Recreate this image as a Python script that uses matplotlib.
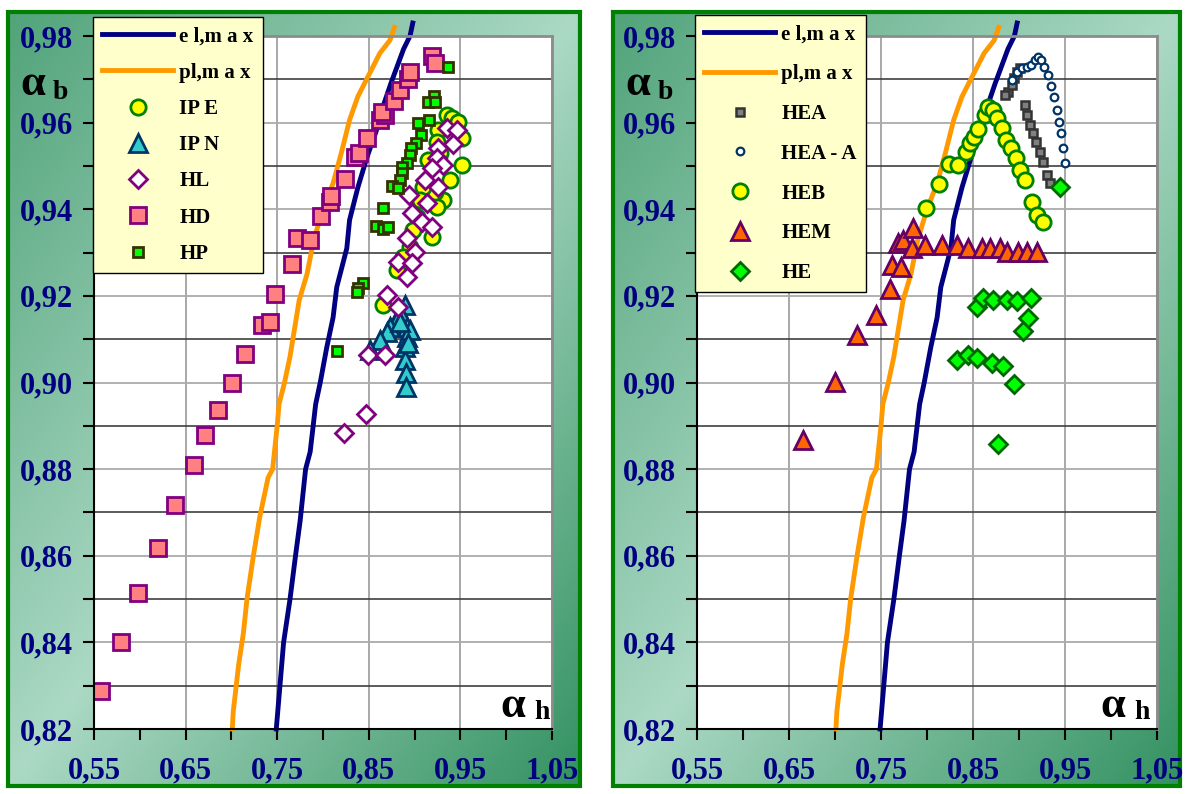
import numpy as np
import matplotlib.pyplot as plt
from matplotlib.patches import Rectangle

plt.rcParams['font.family'] = ['Liberation Serif', 'DejaVu Serif']
plt.rcParams['font.weight'] = 'bold'

# limit curves (same on both panels)
el_x = [0.749, 0.751, 0.757, 0.764, 0.770, 0.775, 0.781, 0.786, 0.792, 0.797, 0.804, 0.811,
        0.815, 0.826, 0.829, 0.838, 0.848, 0.858, 0.866, 0.874, 0.881, 0.888, 0.895, 0.898]
el_y = [0.820, 0.825, 0.840, 0.850, 0.860, 0.868, 0.880, 0.884, 0.895, 0.900, 0.908, 0.915,
        0.922, 0.931, 0.9375, 0.945, 0.952, 0.958, 0.964, 0.969, 0.973, 0.977, 0.980, 0.983]
pl_x = [0.701, 0.702, 0.708, 0.713, 0.717, 0.724, 0.731, 0.740, 0.745, 0.750, 0.752, 0.758,
        0.764, 0.774, 0.7825, 0.790, 0.800, 0.811, 0.820, 0.829, 0.838, 0.850, 0.862, 0.873, 0.878]
pl_y = [0.820, 0.824, 0.835, 0.842, 0.850, 0.860, 0.869, 0.878, 0.880, 0.890, 0.895, 0.900,
        0.906, 0.919, 0.925, 0.933, 0.940, 0.946, 0.953, 0.9606, 0.966, 0.971, 0.976, 0.979, 0.982]

# left panel
ipe_x = [0.9354, 0.9408, 0.9474, 0.9517, 0.9517, 0.9386, 0.931, 0.9245, 0.919, 0.9256, 0.9245, 0.9277,
         0.9223, 0.9092, 0.9026, 0.8983, 0.895, 0.884, 0.8873, 0.8808, 0.8655, 0.9146, 0.9059]
ipe_y = [0.9618, 0.9611, 0.9601, 0.9564, 0.9502, 0.9468, 0.9421, 0.9405, 0.9336, 0.9583, 0.9555, 0.953,
         0.944, 0.9451, 0.9382, 0.9352, 0.9313, 0.926, 0.929, 0.926, 0.9179, 0.9514, 0.9421]
ipn_x = [0.8895, 0.884, 0.8808, 0.8731, 0.8699, 0.8622, 0.8513, 0.8917, 0.8917, 0.8895, 0.8895,
         0.8906, 0.8906, 0.895, 0.8928, 0.884]
ipn_y = [0.9179, 0.916, 0.9144, 0.9128, 0.9117, 0.9098, 0.9075, 0.9128, 0.9105, 0.9082, 0.9052,
         0.9022, 0.899, 0.9121, 0.9091, 0.914]
hl_x = [0.9354, 0.9463, 0.9419, 0.9256, 0.9245, 0.931, 0.919, 0.9114, 0.9256, 0.8937, 0.9135, 0.8972,
        0.9081, 0.919, 0.8917, 0.9004, 0.8819, 0.8972, 0.8917, 0.8699, 0.8819, 0.8491, 0.8677,
        0.8469, 0.8229]
hl_y = [0.9588, 0.9583, 0.9551, 0.9541, 0.9518, 0.9502, 0.9495, 0.9468, 0.9451, 0.9433, 0.9414, 0.9391,
        0.9371, 0.9359, 0.9334, 0.9301, 0.9278, 0.9276, 0.9244, 0.9202, 0.9174, 0.9063, 0.9063,
        0.8927, 0.8883]
hd_x = [0.5576, 0.5795, 0.598, 0.620, 0.6384, 0.659, 0.671, 0.6854, 0.7007, 0.7148, 0.7334, 0.7421,
        0.7476, 0.766, 0.7716, 0.786, 0.798, 0.808, 0.809, 0.824, 0.835, 0.839, 0.848, 0.862,
        0.868, 0.864, 0.877, 0.884, 0.893, 0.895, 0.919, 0.922]
hd_y = [0.8288, 0.840, 0.8514, 0.8618, 0.8717, 0.881, 0.8879, 0.8937, 0.8999, 0.9066, 0.9133, 0.914,
        0.9204, 0.9274, 0.9334, 0.933, 0.9384, 0.9416, 0.943, 0.947, 0.952, 0.953, 0.9565, 0.9606,
        0.9618, 0.9625, 0.965, 0.9675, 0.970, 0.9717, 0.9754, 0.9738]
hp_x = [0.9365, 0.9212, 0.9146, 0.9223, 0.9157, 0.9037, 0.907, 0.9015, 0.8961, 0.895, 0.8917, 0.8862,
        0.8862, 0.884, 0.8753, 0.8819, 0.8655, 0.8579, 0.8655, 0.871, 0.8437, 0.8382, 0.8371, 0.8153]
hp_y = [0.9728, 0.9661, 0.9648, 0.9648, 0.9606, 0.9599, 0.9571, 0.9553, 0.9541, 0.9525, 0.9507, 0.9498,
        0.9484, 0.9468, 0.9454, 0.9449, 0.9403, 0.9361, 0.9354, 0.9359, 0.923, 0.9218, 0.9209, 0.9073]

# right panel
hea_x = [0.888, 0.8924, 0.8946, 0.8978, 0.9011, 0.8848, 0.9065, 0.9087, 0.912, 0.9152, 0.9185,
         0.9228, 0.9261, 0.9304, 0.9337]
hea_y = [0.9671, 0.9687, 0.9703, 0.9717, 0.9726, 0.9664, 0.9641, 0.9618, 0.9595, 0.9576, 0.9555,
         0.9532, 0.9509, 0.9479, 0.9461]
heaa_x = [0.8924, 0.8978, 0.9033, 0.9087, 0.913, 0.9174, 0.9207, 0.9239, 0.9272, 0.9315, 0.9348,
          0.938, 0.9413, 0.9435, 0.9457, 0.9478, 0.950]
heaa_y = [0.9698, 0.9717, 0.9726, 0.9728, 0.9733, 0.9745, 0.9752, 0.9745, 0.9728, 0.971, 0.9685,
          0.9659, 0.9629, 0.9601, 0.9576, 0.9541, 0.9507]
heb_x = [0.7989, 0.813, 0.8239, 0.8337, 0.8424, 0.8467, 0.8511, 0.8554, 0.863, 0.8663, 0.8717, 0.8761,
         0.8815, 0.8859, 0.8913, 0.8967, 0.9011, 0.9065, 0.9141, 0.9196, 0.9261]
heb_y = [0.9403, 0.9458, 0.9504, 0.9502, 0.9532, 0.9553, 0.9567, 0.9585, 0.9618, 0.9636, 0.9629, 0.9611,
         0.9588, 0.956, 0.9541, 0.9518, 0.9491, 0.9468, 0.9417, 0.9387, 0.9371]
hem_x = [0.6652, 0.700, 0.7239, 0.7446, 0.7598, 0.762, 0.7717, 0.7685, 0.7739, 0.7848, 0.7837, 0.7978,
         0.8163, 0.8326, 0.8446, 0.8598, 0.8685, 0.8793, 0.887, 0.8989, 0.9087, 0.9196]
hem_y = [0.8867, 0.9001, 0.911, 0.9156, 0.9216, 0.9271, 0.9267, 0.9322, 0.9329, 0.9357, 0.9311, 0.9317,
         0.9317, 0.9317, 0.9311, 0.9311, 0.9311, 0.9311, 0.9301, 0.9301, 0.9301, 0.9301]
he_x = [0.8543, 0.8609, 0.8717, 0.887, 0.8978, 0.913, 0.9098, 0.9043, 0.8326, 0.8446, 0.8543, 0.8707,
        0.8826, 0.8946, 0.8772, 0.9446]
he_y = [0.9174, 0.9195, 0.919, 0.919, 0.9188, 0.9195, 0.9149, 0.9119, 0.9052, 0.9064, 0.9057, 0.9045,
        0.9038, 0.8997, 0.8858, 0.9451]

x_ticks = [0.55, 0.65, 0.75, 0.85, 0.95, 1.05]
y_ticks = [0.82, 0.84, 0.86, 0.88, 0.90, 0.92, 0.94, 0.96, 0.98]

W, H = 1187, 794
fig = plt.figure(figsize=(W / 100, H / 100), dpi=100)


def px(x0, y0, x1, y1):
    # pixel box -> figure rect
    return [x0 / W, 1 - y1 / H, (x1 - x0) / W, (y1 - y0) / H]


def background(rect):
    bg = fig.add_axes(rect, zorder=0)
    U, V = np.meshgrid(np.linspace(0, 1, 300), np.linspace(0, 1, 300))
    s = U + V - 1
    t = np.where(s < 0, -s * 0.75, s)[..., None]
    light = np.array([0.67, 0.85, 0.77])
    dark = np.array([0.20, 0.57, 0.38])
    bg.imshow(light * (1 - t) + dark * t, aspect='auto', extent=(0, 1, 0, 1), origin='upper')
    bg.set_axis_off()
    bg.add_patch(Rectangle((0, 0), 1, 1, transform=bg.transAxes, fill=False,
                           ec='#008000', lw=3, clip_on=False))


def panel(rect):
    ax = fig.add_axes(rect, zorder=1)
    ax.set_facecolor('white')
    ax.set_xlim(0.55, 1.05)
    ax.set_ylim(0.82, 0.98)
    ax.set_xticks(x_ticks)
    ax.set_xticklabels([f'{v:.2f}'.replace('.', ',') for v in x_ticks])
    ax.set_xticks(np.arange(0.60, 1.01, 0.1), minor=True)
    ax.set_yticks(y_ticks)
    ax.set_yticklabels([f'{v:.2f}'.replace('.', ',') for v in y_ticks])
    ax.set_yticks(np.arange(0.83, 0.975, 0.02), minor=True)
    ax.set_axisbelow(True)
    ax.grid(axis='y', which='major', color='#aaaaaa', lw=1.3)
    ax.grid(axis='y', which='minor', color='#404040', lw=1.2)
    ax.grid(axis='x', which='major', color='#9a9a9a', lw=1.2)
    ax.tick_params(which='both', direction='out', length=8, width=1.5, color='black')
    ax.tick_params(axis='both', labelsize=22, labelcolor='#000080')
    ax.tick_params(axis='x', pad=12)
    ax.tick_params(axis='y', pad=7)
    for sp in ['left', 'bottom']:
        ax.spines[sp].set_color('black')
        ax.spines[sp].set_linewidth(1.5)
    for sp in ['top', 'right']:
        ax.spines[sp].set_color('#8c8c8c')
        ax.spines[sp].set_linewidth(2)
    ax.plot(el_x, el_y, color='#000080', lw=3.5, label='e l,m a x', clip_on=False)
    ax.plot(pl_x, pl_y, color='#ff9900', lw=3.5, label='pl,m a x', clip_on=False)
    return ax


def labels(x0, y0):
    fig.text(x0 / W, 1 - y0 / H, 'α', fontsize=32, color='black')
    fig.text((x0 + 33) / W, 1 - (y0 + 4) / H, 'b', fontsize=20, color='black')


def legend(ax, x0, y0, spacing):
    lg = ax.legend(loc='upper left', bbox_to_anchor=(x0 / W, 1 - y0 / H),
                   bbox_transform=fig.transFigure, borderaxespad=0,
                   prop={'family': 'Liberation Serif', 'weight': 'bold', 'size': 15},
                   handlelength=3.4, handletextpad=0.3, labelspacing=spacing,
                   borderpad=0.45, fancybox=False, framealpha=1,
                   facecolor='#ffffcc', edgecolor='black')
    lg.get_frame().set_linewidth(1)
    lg.set_zorder(10)


# ---- left panel
background(px(8, 12, 580, 786))
ax1 = panel(px(94, 36, 552, 729))
ax1.plot(ipe_x, ipe_y, 'o', ms=11, mfc='#ffff00', mec='#008000', mew=2, label='IP E')
ax1.plot(ipn_x, ipn_y, '^', ms=13, mfc='#33cccc', mec='#003366', mew=2, label='IP N')
ax1.plot(hl_x, hl_y, 'D', ms=9, mfc='white', mec='#800080', mew=2, label='HL')
ax1.plot(hd_x, hd_y, 's', ms=11, mfc='#ff8080', mec='#800080', mew=2, label='HD')
ax1.plot(hp_x, hp_y, 's', ms=6.5, mfc='#00ff00', mec='#333300', mew=2, label='HP')
legend(ax1, 93, 17, 0.78)
labels(20, 95)
fig.text(500 / W, 1 - 717 / H, 'α', fontsize=32, color='black')
fig.text(534 / W, 1 - 719 / H, 'h', fontsize=20, color='black')

# ---- right panel
background(px(613, 12, 1180, 786))
ax2 = panel(px(697, 36, 1157, 729))
ax2.plot(hea_x, hea_y, 's', ms=6, mfc='#808080', mec='#333333', mew=1.8, label='HEA')
ax2.plot(heaa_x, heaa_y, 'o', ms=5.5, mfc='white', mec='#003366', mew=1.6, label='HEA - A')
ax2.plot(heb_x, heb_y, 'o', ms=11, mfc='#ffff00', mec='#008000', mew=2, label='HEB')
ax2.plot(hem_x, hem_y, '^', ms=13, mfc='#ff6600', mec='#660066', mew=2, label='HEM')
ax2.plot(he_x, he_y, 'D', ms=9, mfc='#00ff00', mec='#006600', mew=2, label='HE')
legend(ax2, 695, 15, 0.95)
labels(625, 95)
fig.text(1100 / W, 1 - 717 / H, 'α', fontsize=32, color='black')
fig.text(1134 / W, 1 - 719 / H, 'h', fontsize=20, color='black')

fig.savefig('out.png', dpi=100)
